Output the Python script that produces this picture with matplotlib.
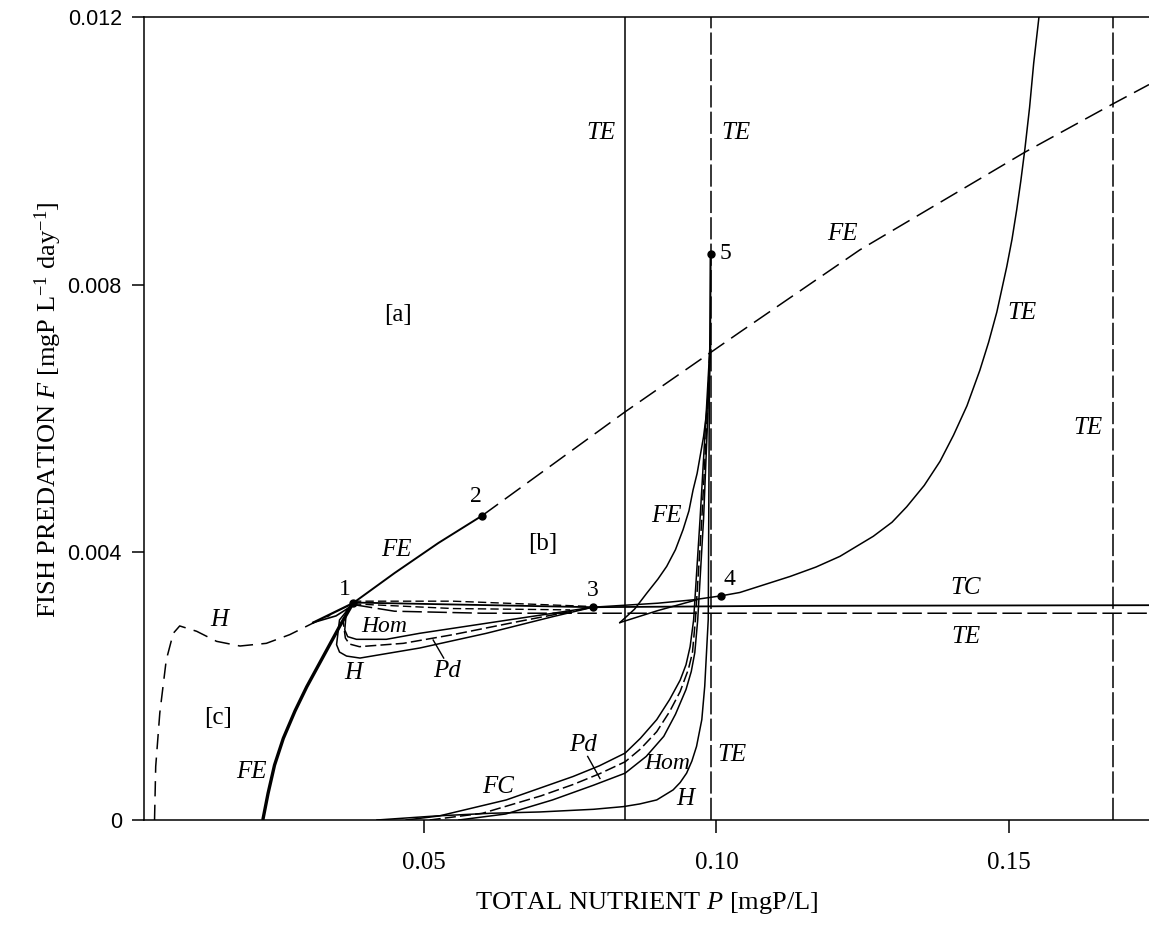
import matplotlib
matplotlib.use("Agg")
import matplotlib.pyplot as plt

plt.rcParams['font.family'] = ['Liberation Serif', 'DejaVu Serif']
plt.rcParams['mathtext.fontset'] = 'custom'
plt.rcParams['mathtext.rm'] = 'Liberation Serif'
plt.rcParams['mathtext.it'] = 'Liberation Serif:italic'
plt.rcParams['lines.scale_dashes'] = False

# ---------------- data (P = total nutrient, F = fish predation) ----------------
xlim = (0.0022, 0.1739)
ylim = (0.0, 0.012)
xticks = [0.05, 0.10, 0.15]
xticklabels = ['0.05', '0.10', '0.15']
yticks = [0.0, 0.004, 0.008, 0.012]
yticklabels = ['0', '0.004', '0.008', '0.012']

# fold (FE) upper branch: solid from point 1 to 2, dashed afterwards
fe_up_solid_P = [0.0379, 0.0450, 0.0525, 0.0600]
fe_up_solid_F = [0.00324, 0.00369, 0.00414, 0.00455]
fe_up_dash_P = [0.0600, 0.0844, 0.1040, 0.1245, 0.1527, 0.1677, 0.1739]
fe_up_dash_F = [0.00455, 0.00610, 0.00729, 0.00852, 0.00998, 0.01070, 0.01099]

# thick FE branch lower left
fe_thick_P = [0.0225, 0.0234, 0.0245, 0.0260, 0.0280, 0.0300, 0.0328, 0.0356, 0.0379]
fe_thick_F = [0.0, 0.00040, 0.00082, 0.00122, 0.00163, 0.00199, 0.00244, 0.00289, 0.00324]

# small wedge left of point 1
wedge1_P = [0.0311, 0.0379]
wedge1_F = [0.00295, 0.00324]
wedge2_P = [0.0311, 0.0350, 0.0379]
wedge2_F = [0.00295, 0.00305, 0.00321]

# Hopf (H) dashed curve on the left
h_left_P = [0.0040, 0.0042, 0.0049, 0.0060, 0.0072, 0.0083, 0.0112, 0.0146,
            0.0186, 0.0231, 0.0271, 0.0317, 0.0340]
h_left_F = [0.0, 0.00080, 0.00160, 0.00239, 0.00279, 0.00290, 0.00282, 0.00267,
            0.00260, 0.00264, 0.00277, 0.00297, 0.00306]

# transcritical TC (solid) and TE (dashed) horizontal curves
tc_P = [0.0379, 0.0789, 0.1100, 0.1739]
tc_F = [0.00325, 0.00318, 0.00320, 0.00321]
te_h_P = [0.0379, 0.0450, 0.0600, 0.1739]
te_h_F = [0.00322, 0.00312, 0.00309, 0.00309]

# extra dashed curves between points 1 and 3
d13a_P = [0.0379, 0.0550, 0.0789]
d13a_F = [0.00327, 0.00327, 0.00319]
d13b_P = [0.0379, 0.0550, 0.0750]
d13b_F = [0.00323, 0.00316, 0.00314]

# lobes below point 1 (Hom, Pd, H)
hom_lobe_P = [0.0379, 0.0368, 0.0365, 0.0370, 0.0385, 0.0436, 0.0493, 0.0607, 0.0721, 0.0789]
hom_lobe_F = [0.00324, 0.00314, 0.00284, 0.00274, 0.00270, 0.00270, 0.00279, 0.00294, 0.00309, 0.00318]
pd_lobe_P = [0.0379, 0.0362, 0.0366, 0.0373, 0.0390, 0.0465, 0.0550, 0.0664, 0.0789]
pd_lobe_F = [0.00324, 0.00299, 0.00272, 0.00263, 0.00259, 0.00264, 0.00277, 0.00297, 0.00318]
h_lobe_P = [0.0379, 0.0356, 0.0351, 0.0356, 0.0368, 0.0391, 0.0493, 0.0607, 0.0721, 0.0789]
h_lobe_F = [0.00324, 0.00299, 0.00262, 0.00251, 0.00245, 0.00242, 0.00257, 0.00279, 0.00304, 0.00318]

# TE solid curve from point 3 through point 4 up to the top
te_curve_P = [0.0789, 0.0900, 0.0960, 0.1008, 0.1040, 0.1126, 0.1170, 0.1211, 0.1268, 0.1300,
              0.1325, 0.1355, 0.1382, 0.1405, 0.1428, 0.1450, 0.1465, 0.1479, 0.1496, 0.1505,
              0.1513, 0.1520, 0.1527, 0.1535, 0.1542, 0.1551]
te_curve_F = [0.00318, 0.00324, 0.00329, 0.00335, 0.00340, 0.00364, 0.00378, 0.00394, 0.00424, 0.00445,
              0.00468, 0.00500, 0.00536, 0.00575, 0.00619, 0.00672, 0.00714, 0.00759, 0.00827, 0.00868,
              0.00912, 0.00955, 0.01003, 0.01065, 0.01131, 0.01200]

# cusp near P = 0.084: branch A and thin FE curve
cuspA_P = [0.0835, 0.0900, 0.0966]
cuspA_F = [0.00295, 0.00313, 0.00329]
fe_thin_P = [0.0835, 0.0860, 0.0881, 0.0900, 0.0915, 0.0930, 0.0943, 0.0953, 0.0960, 0.0967,
             0.0972, 0.0978, 0.0983, 0.0988, 0.0990]
fe_thin_F = [0.00295, 0.00315, 0.00339, 0.00360, 0.00379, 0.00404, 0.00434, 0.00462, 0.00493, 0.00518,
             0.00543, 0.00573, 0.00608, 0.00660, 0.00710]

# bundle rising from the bottom (FC solid, Pd dashed, Hom solid, H solid)
fc_P = [0.0470, 0.0526, 0.0641, 0.0755, 0.0800, 0.0844, 0.0870, 0.0898, 0.0920, 0.0938,
        0.0948, 0.0955, 0.0961, 0.0972, 0.0982, 0.0989]
fc_F = [0.0, 0.00006, 0.00030, 0.00065, 0.00081, 0.00100, 0.00122, 0.00150, 0.00180, 0.00209,
        0.00232, 0.00259, 0.00299, 0.00450, 0.00600, 0.00710]
pd_P = [0.0510, 0.0600, 0.0700, 0.0755, 0.0800, 0.0844, 0.0870, 0.0898, 0.0920, 0.0938,
        0.0952, 0.0959, 0.0964, 0.0975, 0.0984, 0.0989]
pd_F = [0.0, 0.00010, 0.00036, 0.00053, 0.00069, 0.00087, 0.00106, 0.00132, 0.00162, 0.00192,
        0.00225, 0.00250, 0.00299, 0.00450, 0.00600, 0.00710]
hom_P = [0.0560, 0.0640, 0.0720, 0.0790, 0.0844, 0.0880, 0.0910, 0.0930, 0.0948, 0.0957,
         0.0963, 0.0968, 0.0978, 0.0985, 0.0989]
hom_F = [0.0, 0.00009, 0.00030, 0.00052, 0.00070, 0.00095, 0.00125, 0.00158, 0.00195, 0.00222,
         0.00250, 0.00299, 0.00450, 0.00600, 0.00710]
h_P = [0.0420, 0.0520, 0.0613, 0.0698, 0.0790, 0.0841, 0.0869, 0.0898, 0.0926, 0.0938, 0.0949,
       0.0958, 0.0966, 0.0975, 0.0980, 0.0983, 0.0986, 0.0988, 0.0989]
h_F = [0.0, 0.00006, 0.00010, 0.00012, 0.00016, 0.00020, 0.00024, 0.00030, 0.00045, 0.00056, 0.00070,
       0.00088, 0.00110, 0.00150, 0.00200, 0.00250, 0.00300, 0.00660, 0.00710]

# solid segment below point 5
seg5_P = [0.0989, 0.0990]
seg5_F = [0.00700, 0.00846]

# vertical TE lines
te_v_solid = 0.0844
te_v_dash = [0.0991, 0.1677]

# numbered points
pts_P = [0.0379, 0.0600, 0.0789, 0.1008, 0.0990]
pts_F = [0.00324, 0.00455, 0.00318, 0.00335, 0.00846]
pts_lab = ['1', '2', '3', '4', '5']
pts_lab_P = [0.0365, 0.0589, 0.0788, 0.1022, 0.1015]
pts_lab_F = [0.00344, 0.00483, 0.00343, 0.00359, 0.00846]

# curve labels
curve_labels = ['TE', 'TE', 'FE', 'TE', 'TE', 'TC', 'TE', 'FE', 'FE', 'H', 'Hom', 'H', 'Pd',
                'FE', 'FC', 'Pd', 'Hom', 'H', 'TE']
curve_lab_P = [0.0803, 0.1033, 0.1216, 0.1522, 0.1635, 0.1425, 0.1427, 0.0453, 0.0914, 0.0151,
               0.0433, 0.0379, 0.0539, 0.0205, 0.0627, 0.0772, 0.0915, 0.0946, 0.1026]
curve_lab_F = [0.01027, 0.01027, 0.00875, 0.00758, 0.00586, 0.00347, 0.00274, 0.00404, 0.00454,
               0.00299, 0.00289, 0.00219, 0.00222, 0.00072, 0.00050, 0.00112, 0.00084, 0.00032, 0.00097]
curve_lab_size = [18, 18, 18, 18, 18, 18, 18, 18, 18, 18, 17, 18, 18, 18, 18, 18, 17, 18, 18]

region_labels = ['[a]', '[b]', '[c]']
region_P = [0.0456, 0.0703, 0.0148]
region_F = [0.00755, 0.00413, 0.00152]

# pointer lines for Pd labels
ptr1_P = [0.0516, 0.0534]
ptr1_F = [0.00269, 0.00242]
ptr2_P = [0.0780, 0.0801]
ptr2_F = [0.00095, 0.00062]

# ---------------- figure ----------------
W, H = 1149, 932
fig = plt.figure(figsize=(W / 100, H / 100), dpi=100)
ax = fig.add_axes([144 / W, 1 - 820 / H, (W - 144) / W, (820 - 17) / H])
ax.set_xlim(*xlim)
ax.set_ylim(*ylim)

K = 'black'
LW = 1.1
long_dash = (14, 6)
short_dash = (6, 3)

ax.plot(fe_up_solid_P, fe_up_solid_F, color=K, lw=1.4)
ax.plot(fe_up_dash_P, fe_up_dash_F, color=K, lw=1.1, dashes=long_dash)
ax.plot(fe_thick_P, fe_thick_F, color=K, lw=2.4, solid_capstyle='butt')
ax.plot(wedge1_P, wedge1_F, color=K, lw=1.6)
ax.plot(wedge2_P, wedge2_F, color=K, lw=1.2)
ax.plot(h_left_P, h_left_F, color=K, lw=1.1, dashes=(11, 6))
ax.plot(tc_P, tc_F, color=K, lw=1.3)
ax.plot(te_h_P, te_h_F, color=K, lw=1.1, dashes=(14, 4))
ax.plot(d13a_P, d13a_F, color=K, lw=1.0, dashes=short_dash)
ax.plot(d13b_P, d13b_F, color=K, lw=1.0, dashes=short_dash)
ax.plot(hom_lobe_P, hom_lobe_F, color=K, lw=LW)
ax.plot(pd_lobe_P, pd_lobe_F, color=K, lw=LW, dashes=(8, 3))
ax.plot(h_lobe_P, h_lobe_F, color=K, lw=LW)
ax.plot(te_curve_P, te_curve_F, color=K, lw=LW)
ax.plot(cuspA_P, cuspA_F, color=K, lw=LW)
ax.plot(fe_thin_P, fe_thin_F, color=K, lw=LW)
ax.plot(fc_P, fc_F, color=K, lw=LW)
ax.plot(pd_P, pd_F, color=K, lw=LW, dashes=(8, 3))
ax.plot(hom_P, hom_F, color=K, lw=LW)
ax.plot(h_P, h_F, color=K, lw=LW)
ax.plot(seg5_P, seg5_F, color=K, lw=1.5)

ax.axvline(te_v_solid, color=K, lw=1.1)
for xv in te_v_dash:
    ax.axvline(xv, color=K, lw=1.1, dashes=(16, 3))

ax.plot(ptr1_P, ptr1_F, color=K, lw=1.0)
ax.plot(ptr2_P, ptr2_F, color=K, lw=1.0)

ax.plot(pts_P, pts_F, 'o', color=K, ms=5, zorder=5)
for s, px, py in zip(pts_lab, pts_lab_P, pts_lab_F):
    ax.text(px, py, s, fontsize=17, ha='center', va='center')

for s, px, py, fs in zip(curve_labels, curve_lab_P, curve_lab_F, curve_lab_size):
    ax.text(px, py, s, fontsize=fs, style='italic', ha='center', va='center')

for s, px, py in zip(region_labels, region_P, region_F):
    ax.text(px, py, s, fontsize=18, ha='center', va='center')

# axes styling
for side in ['left', 'bottom', 'top']:
    ax.spines[side].set_linewidth(1.1)
ax.spines['right'].set_visible(False)
ax.set_xticks(xticks)
ax.set_xticklabels(xticklabels, fontsize=18)
ax.set_yticks(yticks)
ax.set_yticklabels(yticklabels, fontsize=15.5, family='Liberation Sans')
ax.tick_params(axis='x', direction='out', length=9, width=1.1, pad=14)
ax.tick_params(axis='y', direction='out', length=9, width=1.1, pad=7)

fig.text((144 + W) / 2 / W, 1 - 903 / H, r'TOTAL NUTRIENT $P$ [mgP/L]',
         fontsize=19, ha='center', va='center')
fig.text(48 / W, 1 - 410 / H, r'FISH PREDATION $F$ [mgP L$^{\mathrm{-1}}$ day$^{\mathrm{-1}}$]',
         fontsize=19, ha='center', va='center', rotation=90)

fig.savefig('out.png', dpi=100)
